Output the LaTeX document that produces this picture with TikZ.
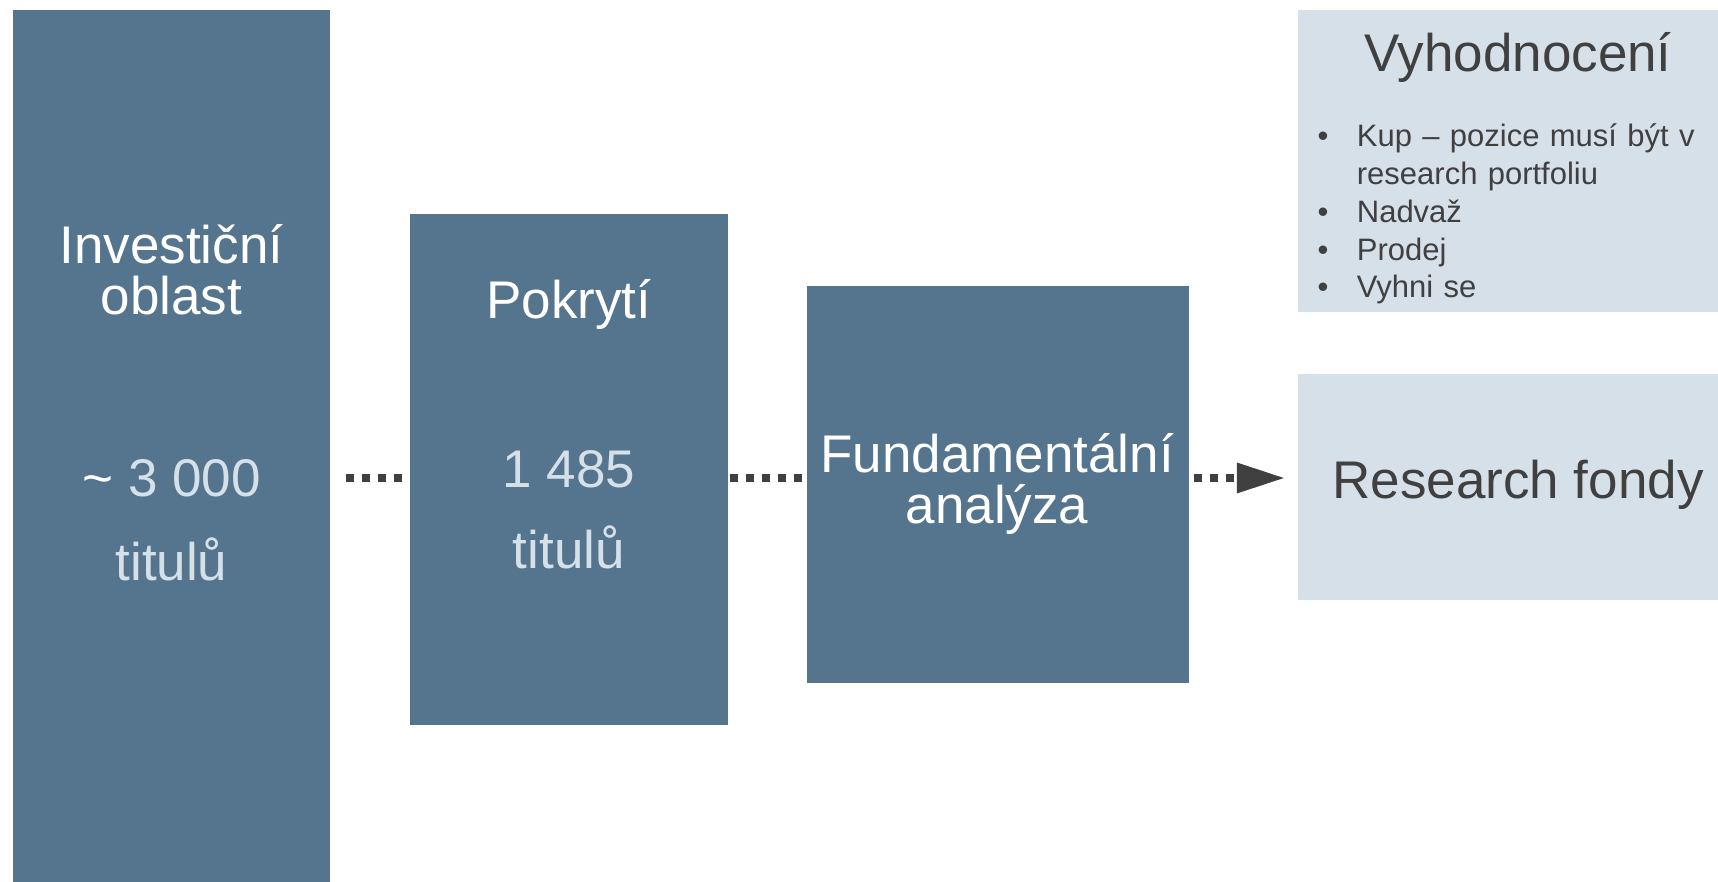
\documentclass[tikz,border=0pt]{standalone}
\usepackage{fontspec}
\setmainfont{Liberation Sans}
\usetikzlibrary{arrows.meta}
\definecolor{boxblue}{RGB}{85,117,143}
\definecolor{boxpale}{RGB}{214,224,233}
\definecolor{inkgrey}{RGB}{64,64,64}
\newcommand{\bitem}{\hangindent=39.4pt\hangafter=1\makebox[39.4pt][l]{\textbullet}}
\begin{document}
\begin{tikzpicture}[x=1pt,y=-1pt,line join=round,
 darkbox/.style={fill=boxblue,inner sep=0pt},
 palebox/.style={fill=boxpale,inner sep=0pt},
 big/.style={inner sep=0pt,anchor=base,align=center,font=\fontsize{53}{51}\selectfont},
 dots/.style={draw=inkgrey,line width=8pt,dash pattern=on 8pt off 8pt}]
 \useasboundingbox (0,0) rectangle (1718,882);
 \clip (0,0) rectangle (1718,882);
 % boxes
 \node[darkbox,minimum width=317pt,minimum height=872pt] (inv) at (171.5,446) {};
 \node[darkbox,minimum width=317.5pt,minimum height=511pt] (pok) at (568.75,469.5) {};
 \node[darkbox,minimum width=382pt,minimum height=397pt] (fun) at (998,484.5) {};
 \node[palebox,minimum width=440pt,minimum height=302pt] (vyh) at (1518,161) {};
 \node[palebox,minimum width=440pt,minimum height=226pt] (res) at (1518,487) {};
 % texts (base of a two-line node = its last line)
 \node[big,text=white] (invtit) at (171.5,315) {Investiční\\oblast};
 \node[big,text=boxpale] (invnum) at (171.5,496) {\textcolor{white}{\textasciitilde} 3 000};
 \node[big,text=boxpale] (invunit) at (171.5,580) {titulů};
 \node[big,text=white] (poktit) at (568.75,319) {Pokrytí};
 \node[big,text=boxpale] (poknum) at (568.75,487) {1 485};
 \node[big,text=boxpale] (pokunit) at (568.75,568) {titulů};
 \node[big,text=white] (funtit) at (997,523) {Fundamentální\\analýza};
 \node[big,text=inkgrey] (vyhtit) at (1518,72) {Vyhodnocení};
 \node[big,text=inkgrey] (restit) at (1518,498) {Research fondy};
 \node[inner sep=0pt,anchor=base west,text width=400pt,align=left,text=inkgrey,
  font=\fontsize{31}{37.8}\selectfont] (items) at (1317.3,146.7)
  {\bitem Kup – pozice musí být v\newline research portfoliu\par
   \bitem Nadvaž\par \bitem Prodej\par \bitem Vyhni se\par};
 % connectors
 \coordinate (flow) at (0,478);
 \draw[dots,shorten <=16pt,shorten >=8pt] (inv.east |- flow) -- (pok.west |- flow);
 \draw[dots,shorten <=2.5pt,shorten >=4pt] (pok.east |- flow) -- (fun.west |- flow);
 \draw[dots,shorten <=5pt,shorten >=14pt,-{Triangle[length=47pt,width=31pt,line width=0pt]}]
  (fun.east |- flow) -- (res.west |- flow);
\end{tikzpicture}
\end{document}
